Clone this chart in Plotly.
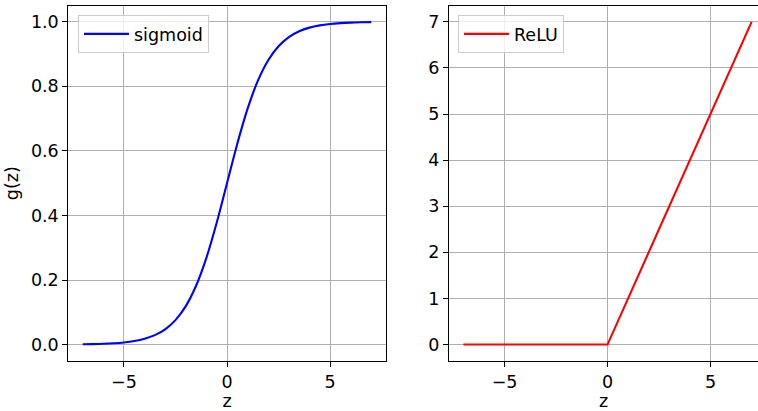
import plotly.graph_objects as go

# ---- data ----
z_sig = [-7.0, -6.5, -6.0, -5.5, -5.0, -4.5, -4.0, -3.5, -3.0, -2.5, -2.0, -1.5, -1.0, -0.5,
         0.0, 0.5, 1.0, 1.5, 2.0, 2.5, 3.0, 3.5, 4.0, 4.5, 5.0, 5.5, 6.0, 6.5, 7.0]
g_sig = [0.0009, 0.0015, 0.0025, 0.0041, 0.0067, 0.0110, 0.0180, 0.0293, 0.0474, 0.0759,
         0.1192, 0.1824, 0.2689, 0.3775, 0.5000, 0.6225, 0.7311, 0.8176, 0.8808, 0.9241,
         0.9526, 0.9707, 0.9820, 0.9890, 0.9933, 0.9959, 0.9975, 0.9985, 0.9991]
z_relu = [-7.0, 0.0, 7.0]
g_relu = [0.0, 0.0, 7.0]
left_yticks = [0.0, 0.2, 0.4, 0.6, 0.8, 1.0]
right_yticks = [0, 1, 2, 3, 4, 5, 6, 7]
xticks = [-5, 0, 5]

W, H = 758, 411
FONT = dict(family="DejaVu Sans", size=17.5, color="black")

fig = go.Figure()
fig.add_trace(go.Scatter(x=z_sig, y=g_sig, mode="lines", name="sigmoid",
                         line=dict(color="blue", width=2.1, shape="spline"),
                         xaxis="x", yaxis="y", legend="legend"))
fig.add_trace(go.Scatter(x=z_relu, y=g_relu, mode="lines", name="ReLU",
                         line=dict(color="red", width=2.1),
                         xaxis="x2", yaxis="y2", legend="legend2"))

ydom = [1 - 360.7 / H, 1 - 5.7 / H]
axis_common = dict(showgrid=True, gridcolor="#b0b0b0", gridwidth=1.1,
                   zeroline=False, showline=True, linecolor="black", linewidth=1.1,
                   ticks="outside", ticklen=5, tickwidth=1.1, tickcolor="black",
                   tickfont=FONT)

legend_common = dict(xanchor="left", yanchor="top", itemwidth=45,
                     bgcolor="rgba(255,255,255,0.8)", bordercolor="#cccccc",
                     borderwidth=1, font=FONT)

fig.update_layout(
    width=W, height=H,
    margin=dict(l=0, r=0, t=0, b=0),
    paper_bgcolor="white", plot_bgcolor="white",
    font=FONT,
    xaxis=dict(domain=[68.3 / W, 385.7 / W], range=[-7.7, 7.7], tickvals=xticks,
               anchor="y", mirror=True,
               title=dict(text="z", font=FONT, standoff=5), **axis_common),
    yaxis=dict(domain=ydom, range=[-0.0499, 1.0499], tickvals=left_yticks,
               tickformat=".1f", anchor="x", mirror=True,
               title=dict(text="g(z)", font=FONT, standoff=7), **axis_common),
    xaxis2=dict(domain=[449.0 / W, 1.0], range=[-7.7, 7.31], tickvals=xticks,
                anchor="y2", mirror=True,
                title=dict(text="z", font=FONT, standoff=5), **axis_common),
    yaxis2=dict(domain=ydom, range=[-0.35, 7.35], tickvals=right_yticks,
                anchor="x2", mirror=False, **axis_common),
    legend=dict(x=78 / W, y=1 - 15 / H, **legend_common),
    legend2=dict(x=458 / W, y=1 - 15 / H, **legend_common),
    showlegend=True,
)

fig.write_html("out.html")
